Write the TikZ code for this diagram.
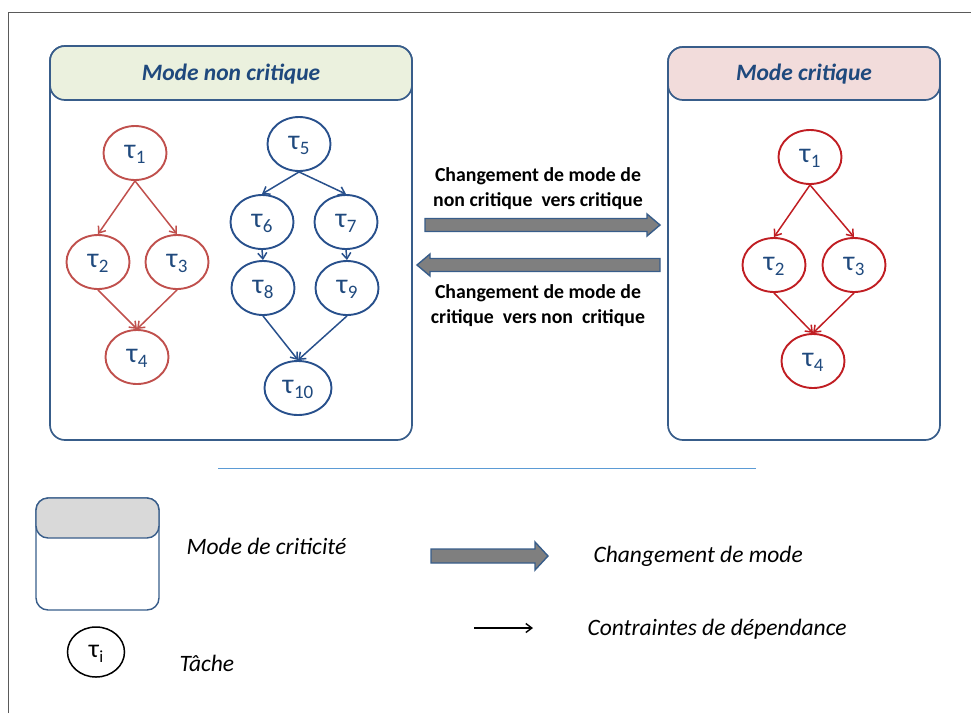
\documentclass[tikz,border=0pt]{standalone}
\usepackage{fontspec}
\setmainfont{Carlito}
\usetikzlibrary{arrows.meta,shapes.geometric}
\definecolor{frameGray}{RGB}{90,90,90}
\definecolor{boxBlue}{RGB}{56,93,138}
\definecolor{hdrGreen}{RGB}{235,241,222}
\definecolor{hdrPink}{RGB}{242,220,219}
\definecolor{hdrGray}{RGB}{217,217,217}
\definecolor{tauBlue}{RGB}{31,73,125}
\definecolor{redSoft}{RGB}{192,80,77}
\definecolor{redDeep}{RGB}{192,30,35}
\definecolor{circBlue}{RGB}{40,80,140}
\definecolor{arrGray}{RGB}{127,127,127}
\definecolor{sepBlue}{RGB}{91,155,213}
\newcommand{\tauidx}[1]{τ\kern0.5pt\raisebox{-5pt}{\fontsize{19}{19}\selectfont #1}}
\begin{document}
\begin{tikzpicture}[x=1pt,y=-1pt,
  modebox/.style={draw=boxBlue,line width=1.7pt,rounded corners=15pt},
  hdr/.style={draw=boxBlue,line width=1.7pt,rounded corners=15pt},
  hdrtext/.style={font=\fontsize{23.5}{26}\selectfont\bfseries\itshape,text=tauBlue},
  task/.style={ellipse,draw=#1,line width=1.9pt,minimum width=63pt,minimum height=54pt,inner sep=0pt,
    font=\fontsize{28}{30}\selectfont,text=tauBlue,text depth=2pt},
  dep/.style={draw=#1,line width=1.5pt,-{Straight Barb[length=6pt,width=9pt]}},
  blockarrow/.style={draw=boxBlue,line width=1.4pt,fill=arrGray},
  midtext/.style={font=\fontsize{19.8}{25}\selectfont\bfseries,align=center,text=black},
  legtext/.style={font=\fontsize{23.5}{26}\selectfont\itshape,anchor=west,text=black}]
\useasboundingbox (0,0) rectangle (971,713);
\draw[frameGray,line width=1pt] (8.5,713) -- (8.5,12) -- (971,12);

% left mode box
\draw[modebox] (50,46) rectangle (412,440);
\draw[hdr,fill=hdrGreen] (50,46) rectangle (412,100);
\node[hdrtext] (hl) at (231,74) {Mode non critique};

% right mode box
\draw[modebox] (668,47) rectangle (940,440);
\draw[hdr,fill=hdrPink] (668,47) rectangle (940,100);
\node[hdrtext] (hr) at (804,74) {Mode critique};

% left red graph
\node[task=redSoft] (a1) at (135,153) {\tauidx{1}};
\node[task=redSoft] (a2) at (98,262) {\tauidx{2}};
\node[task=redSoft] (a3) at (177,262) {\tauidx{3}};
\node[task=redSoft] (a4) at (137,357) {\tauidx{4}};
\draw[dep=redSoft] (a1.south) -- (a2.north);
\draw[dep=redSoft] (a1.south) -- (a3.north);
\draw[dep=redSoft] (a2.south) -- (a4.north);
\draw[dep=redSoft] (a3.south) -- (a4.north);

% left blue graph
\node[task=circBlue] (b5) at (299,144) {\tauidx{5}};
\node[task=circBlue] (b6) at (262,222) {\tauidx{6}};
\node[task=circBlue] (b7) at (346,222) {\tauidx{7}};
\node[task=circBlue] (b8) at (263,288) {\tauidx{8}};
\node[task=circBlue] (b9) at (347,288) {\tauidx{9}};
\node[task=circBlue,minimum width=67pt] (b10) at (298,388) {\tauidx{10}};
\draw[dep=circBlue] (b5.south) -- (b6.north);
\draw[dep=circBlue] (b5.south) -- (b7.north);
\draw[dep=circBlue] (b6.south) -- (b8.north);
\draw[dep=circBlue] (b7.south) -- (b9.north);
\draw[dep=circBlue] (b8.south) -- (b10.north);
\draw[dep=circBlue] (b9.south) -- (b10.north);

% right red graph
\node[task=redDeep] (c1) at (810,157) {\tauidx{1}};
\node[task=redDeep] (c2) at (774,265) {\tauidx{2}};
\node[task=redDeep] (c3) at (854,265) {\tauidx{3}};
\node[task=redDeep] (c4) at (813,361) {\tauidx{4}};
\draw[dep=redDeep] (c1.south) -- (c2.north);
\draw[dep=redDeep] (c1.south) -- (c3.north);
\draw[dep=redDeep] (c2.south) -- (c4.north);
\draw[dep=redDeep] (c3.south) -- (c4.north);

% mode change arrows
\node[midtext] (t1) at (538,189) {Changement de mode de\\non critique\ \ vers critique};
\draw[blockarrow] (425,218.5) -- (647,218.5) -- (647,214) -- (660,225) -- (647,236) -- (647,231.5) -- (425,231.5) -- cycle;
\draw[blockarrow] (660,258.5) -- (430,258.5) -- (430,254) -- (417,265) -- (430,276) -- (430,271.5) -- (660,271.5) -- cycle;
\node[midtext] (t2) at (538,306) {Changement de mode de\\critique\ \ vers non\ \ critique};

% separator
\draw[sepBlue,line width=1pt] (218,468) -- (756,468);

% legend
\draw[modebox,line width=1.4pt,rounded corners=12pt] (36,498) rectangle (159,610);
\draw[hdr,line width=1.4pt,rounded corners=12pt,fill=hdrGray] (36,498) rectangle (159,538);
\node[legtext] (l1) at (183,546) {Mode de criticité};

\draw[blockarrow] (431,549) -- (535,549) -- (535,542) -- (548,556) -- (535,570) -- (535,563) -- (431,563) -- cycle;
\node[legtext] (l2) at (590,556) {Changement de mode};

\coordinate (da) at (474,628);
\coordinate (db) at (533,628);
\draw[line width=1.4pt,-{Straight Barb[length=6pt,width=9pt]}] (da) -- (db);
\node[legtext] (l3) at (584,629) {Contraintes de dépendance};

\node[ellipse,draw=black,line width=1.5pt,minimum width=57pt,minimum height=50pt,inner sep=0pt,
  font=\fontsize{26}{28}\selectfont,text depth=2pt] (ti) at (96,652) {τ\kern0.5pt\raisebox{-5pt}{\fontsize{17}{17}\selectfont i}};
\node[legtext] (l4) at (176,663) {Tâche};
\end{tikzpicture}
\end{document}
